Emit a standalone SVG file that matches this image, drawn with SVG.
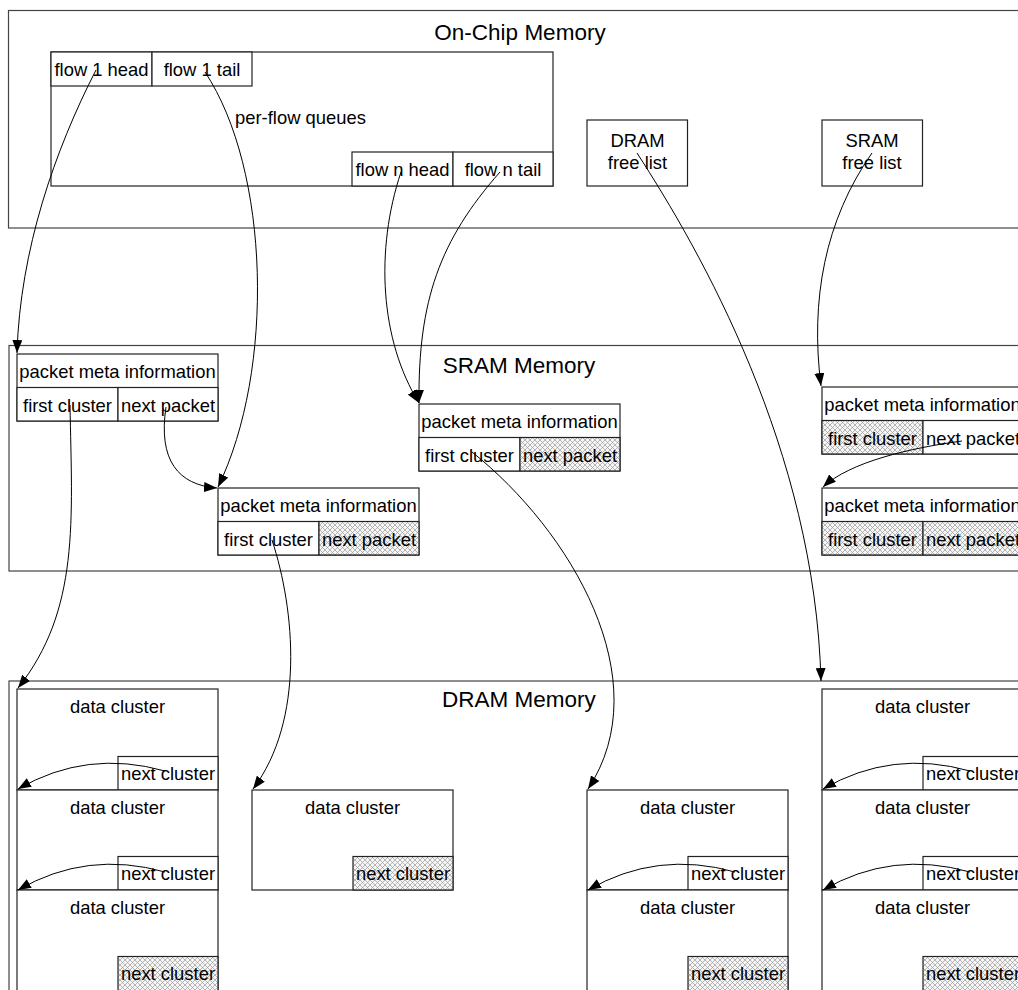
<svg xmlns="http://www.w3.org/2000/svg" width="1018" height="990" viewBox="0 0 1018 990">
  <style>
    .frame { fill: none; stroke: #444; stroke-width: 1.2; }
    .box { fill: #fff; stroke: #222; stroke-width: 1.2; }
    .hatch { fill: url(#xhatch); stroke: #222; stroke-width: 1.2; }
    .t { font-family: "Liberation Sans", Arial, sans-serif; font-size: 18.4px; fill: #000; text-anchor: middle; }
    .tl { text-anchor: start; }
    .title { font-size: 22.5px; }
    .link { fill: none; stroke: #000; stroke-width: 1; marker-end: url(#arrow); }
  </style>
  <defs>
    <pattern id="xhatch" width="5" height="5" patternUnits="userSpaceOnUse">
      <rect width="5" height="5" fill="#f6f6f6"/>
      <path d="M0,0 L5,5 M5,0 L0,5" stroke="#9a9a9a" stroke-width="0.7"/>
    </pattern>
    <marker id="arrow" markerUnits="userSpaceOnUse" markerWidth="13" markerHeight="10" refX="13" refY="5" orient="auto">
      <path d="M0,0 L13,5 L0,10 Z" fill="#000"/>
    </marker>
  </defs>

  <rect width="1018" height="990" fill="#fff"/>

  <!-- memory regions -->
  <g id="onchip">
    <rect class="frame" x="8.5" y="10.5" width="1030" height="217.5"/>
    <text class="t title" x="520" y="40">On-Chip Memory</text>
  </g>
  <g id="sram">
    <rect class="frame" x="9" y="345.5" width="1030" height="225.5"/>
    <text class="t title" x="519" y="373">SRAM Memory</text>
  </g>
  <g id="dram">
    <rect class="frame" x="9" y="681" width="1030" height="330"/>
    <text class="t title" x="519" y="707">DRAM Memory</text>
  </g>

  <!-- on-chip structures -->
  <g id="queues">
    <rect class="box" x="51" y="52" width="502" height="134"/>
    <text class="t tl" x="235" y="124">per-flow queues</text>
  </g>
  <g id="flow1-head">
    <rect class="box" x="51" y="52" width="101" height="34"/>
    <text class="t" x="101.5" y="76">flow 1 head</text>
  </g>
  <g id="flow1-tail">
    <rect class="box" x="152" y="52" width="100" height="34"/>
    <text class="t" x="202" y="76">flow 1 tail</text>
  </g>
  <g id="flown-head">
    <rect class="box" x="352" y="152" width="101" height="34"/>
    <text class="t" x="402.5" y="176">flow n head</text>
  </g>
  <g id="flown-tail">
    <rect class="box" x="453" y="152" width="100" height="34"/>
    <text class="t" x="503" y="176">flow n tail</text>
  </g>
  <g id="dram-free">
    <rect class="box" x="587" y="120" width="100.5" height="66"/>
    <text class="t" x="637.5" y="147">DRAM</text>
    <text class="t" x="637.5" y="169">free list</text>
  </g>
  <g id="sram-free">
    <rect class="box" x="822" y="120" width="100.5" height="66"/>
    <text class="t" x="872" y="147">SRAM</text>
    <text class="t" x="872" y="169">free list</text>
  </g>

  <!-- packet descriptors in SRAM -->
  <g id="pkt1">
    <rect class="box" x="17" y="354" width="201" height="67"/>
    <rect class="box" x="17" y="387.5" width="101" height="33.5"/>
    <rect class="box" x="118" y="387.5" width="100" height="33.5"/>
    <text class="t" x="117.5" y="378">packet meta information</text>
    <text class="t" x="67.5" y="411.5">first cluster</text>
    <text class="t" x="168" y="411.5">next packet</text>
  </g>
  <g id="pkt2">
    <rect class="box" x="218" y="488" width="201" height="67"/>
    <rect class="box" x="218" y="521.5" width="101" height="33.5"/>
    <rect class="hatch" x="319" y="521.5" width="100" height="33.5"/>
    <text class="t" x="318.5" y="512">packet meta information</text>
    <text class="t" x="268.5" y="545.5">first cluster</text>
    <text class="t" x="369" y="545.5">next packet</text>
  </g>
  <g id="pkt3">
    <rect class="box" x="419" y="404" width="201" height="67"/>
    <rect class="box" x="419" y="437.5" width="101" height="33.5"/>
    <rect class="hatch" x="520" y="437.5" width="100" height="33.5"/>
    <text class="t" x="519.5" y="428">packet meta information</text>
    <text class="t" x="469.5" y="461.5">first cluster</text>
    <text class="t" x="570" y="461.5">next packet</text>
  </g>
  <g id="pkt4">
    <rect class="box" x="822" y="387" width="201" height="67"/>
    <rect class="hatch" x="822" y="420.5" width="101" height="33.5"/>
    <rect class="box" x="923" y="420.5" width="100" height="33.5"/>
    <text class="t" x="922.5" y="411">packet meta information</text>
    <text class="t" x="872.5" y="444.5">first cluster</text>
    <text class="t" x="973" y="444.5">next packet</text>
  </g>
  <g id="pkt5">
    <rect class="box" x="822" y="488" width="201" height="67"/>
    <rect class="hatch" x="822" y="521.5" width="101" height="33.5"/>
    <rect class="hatch" x="923" y="521.5" width="100" height="33.5"/>
    <text class="t" x="922.5" y="512">packet meta information</text>
    <text class="t" x="872.5" y="545.5">first cluster</text>
    <text class="t" x="973" y="545.5">next packet</text>
  </g>

  <!-- data clusters in DRAM: column 1 -->
  <g id="c1a">
    <rect class="box" x="17" y="689" width="201" height="101"/>
    <rect class="box" x="118" y="756.5" width="100" height="33.5"/>
    <text class="t" x="117.5" y="713">data cluster</text>
    <text class="t" x="168" y="780">next cluster</text>
  </g>
  <g id="c1b">
    <rect class="box" x="17" y="790" width="201" height="100"/>
    <rect class="box" x="118" y="856.5" width="100" height="33.5"/>
    <text class="t" x="117.5" y="814">data cluster</text>
    <text class="t" x="168" y="880">next cluster</text>
  </g>
  <g id="c1c">
    <rect class="box" x="17" y="890" width="201" height="101"/>
    <rect class="hatch" x="118" y="956.5" width="100" height="34.5"/>
    <text class="t" x="117.5" y="914">data cluster</text>
    <text class="t" x="168" y="980">next cluster</text>
  </g>

  <!-- column 2 -->
  <g id="c2a">
    <rect class="box" x="252" y="790" width="201" height="100"/>
    <rect class="hatch" x="353" y="856.5" width="100" height="33.5"/>
    <text class="t" x="352.5" y="814">data cluster</text>
    <text class="t" x="403" y="880">next cluster</text>
  </g>

  <!-- column 3 -->
  <g id="c3a">
    <rect class="box" x="587" y="790" width="201" height="100"/>
    <rect class="box" x="688" y="856.5" width="100" height="33.5"/>
    <text class="t" x="687.5" y="814">data cluster</text>
    <text class="t" x="738" y="880">next cluster</text>
  </g>
  <g id="c3b">
    <rect class="box" x="587" y="890" width="201" height="101"/>
    <rect class="hatch" x="688" y="956.5" width="100" height="34.5"/>
    <text class="t" x="687.5" y="914">data cluster</text>
    <text class="t" x="738" y="980">next cluster</text>
  </g>

  <!-- column 4 -->
  <g id="c4a">
    <rect class="box" x="822" y="689" width="201" height="101"/>
    <rect class="box" x="923" y="756.5" width="100" height="33.5"/>
    <text class="t" x="922.5" y="713">data cluster</text>
    <text class="t" x="973" y="780">next cluster</text>
  </g>
  <g id="c4b">
    <rect class="box" x="822" y="790" width="201" height="100"/>
    <rect class="box" x="923" y="856.5" width="100" height="33.5"/>
    <text class="t" x="922.5" y="814">data cluster</text>
    <text class="t" x="973" y="880">next cluster</text>
  </g>
  <g id="c4c">
    <rect class="box" x="822" y="890" width="201" height="101"/>
    <rect class="hatch" x="923" y="956.5" width="100" height="34.5"/>
    <text class="t" x="922.5" y="914">data cluster</text>
    <text class="t" x="973" y="980">next cluster</text>
  </g>

  <!-- pointers -->
  <g id="links">
    <path class="link" d="M96,70 C55,150 20,250 17,353"/>
    <path class="link" d="M205,72 C270,170 275,370 218,487"/>
    <path class="link" d="M166,407 C158,460 178,485 217,488"/>
    <path class="link" d="M401,172 C375,250 380,340 419,403"/>
    <path class="link" d="M500,172 C440,240 418,300 419,403"/>
    <path class="link" d="M637,153 C700,250 815,450 821,681"/>
    <path class="link" d="M872,153 C825,220 810,300 821,386"/>
    <path class="link" d="M962,441 C910,448 850,462 823,487"/>
    <path class="link" d="M70,405 C72,520 80,610 18,688"/>
    <path class="link" d="M272,540 C295,610 305,720 253,789"/>
    <path class="link" d="M472,452 C570,530 660,680 588,789"/>
    <path class="link" d="M165,771 Q87,749 18,789"/>
    <path class="link" d="M165,872 Q87,850 18,890"/>
    <path class="link" d="M735,872 Q657,850 588,890"/>
    <path class="link" d="M970,771 Q892,749 823,789"/>
    <path class="link" d="M970,872 Q892,850 823,890"/>
  </g>
</svg>
